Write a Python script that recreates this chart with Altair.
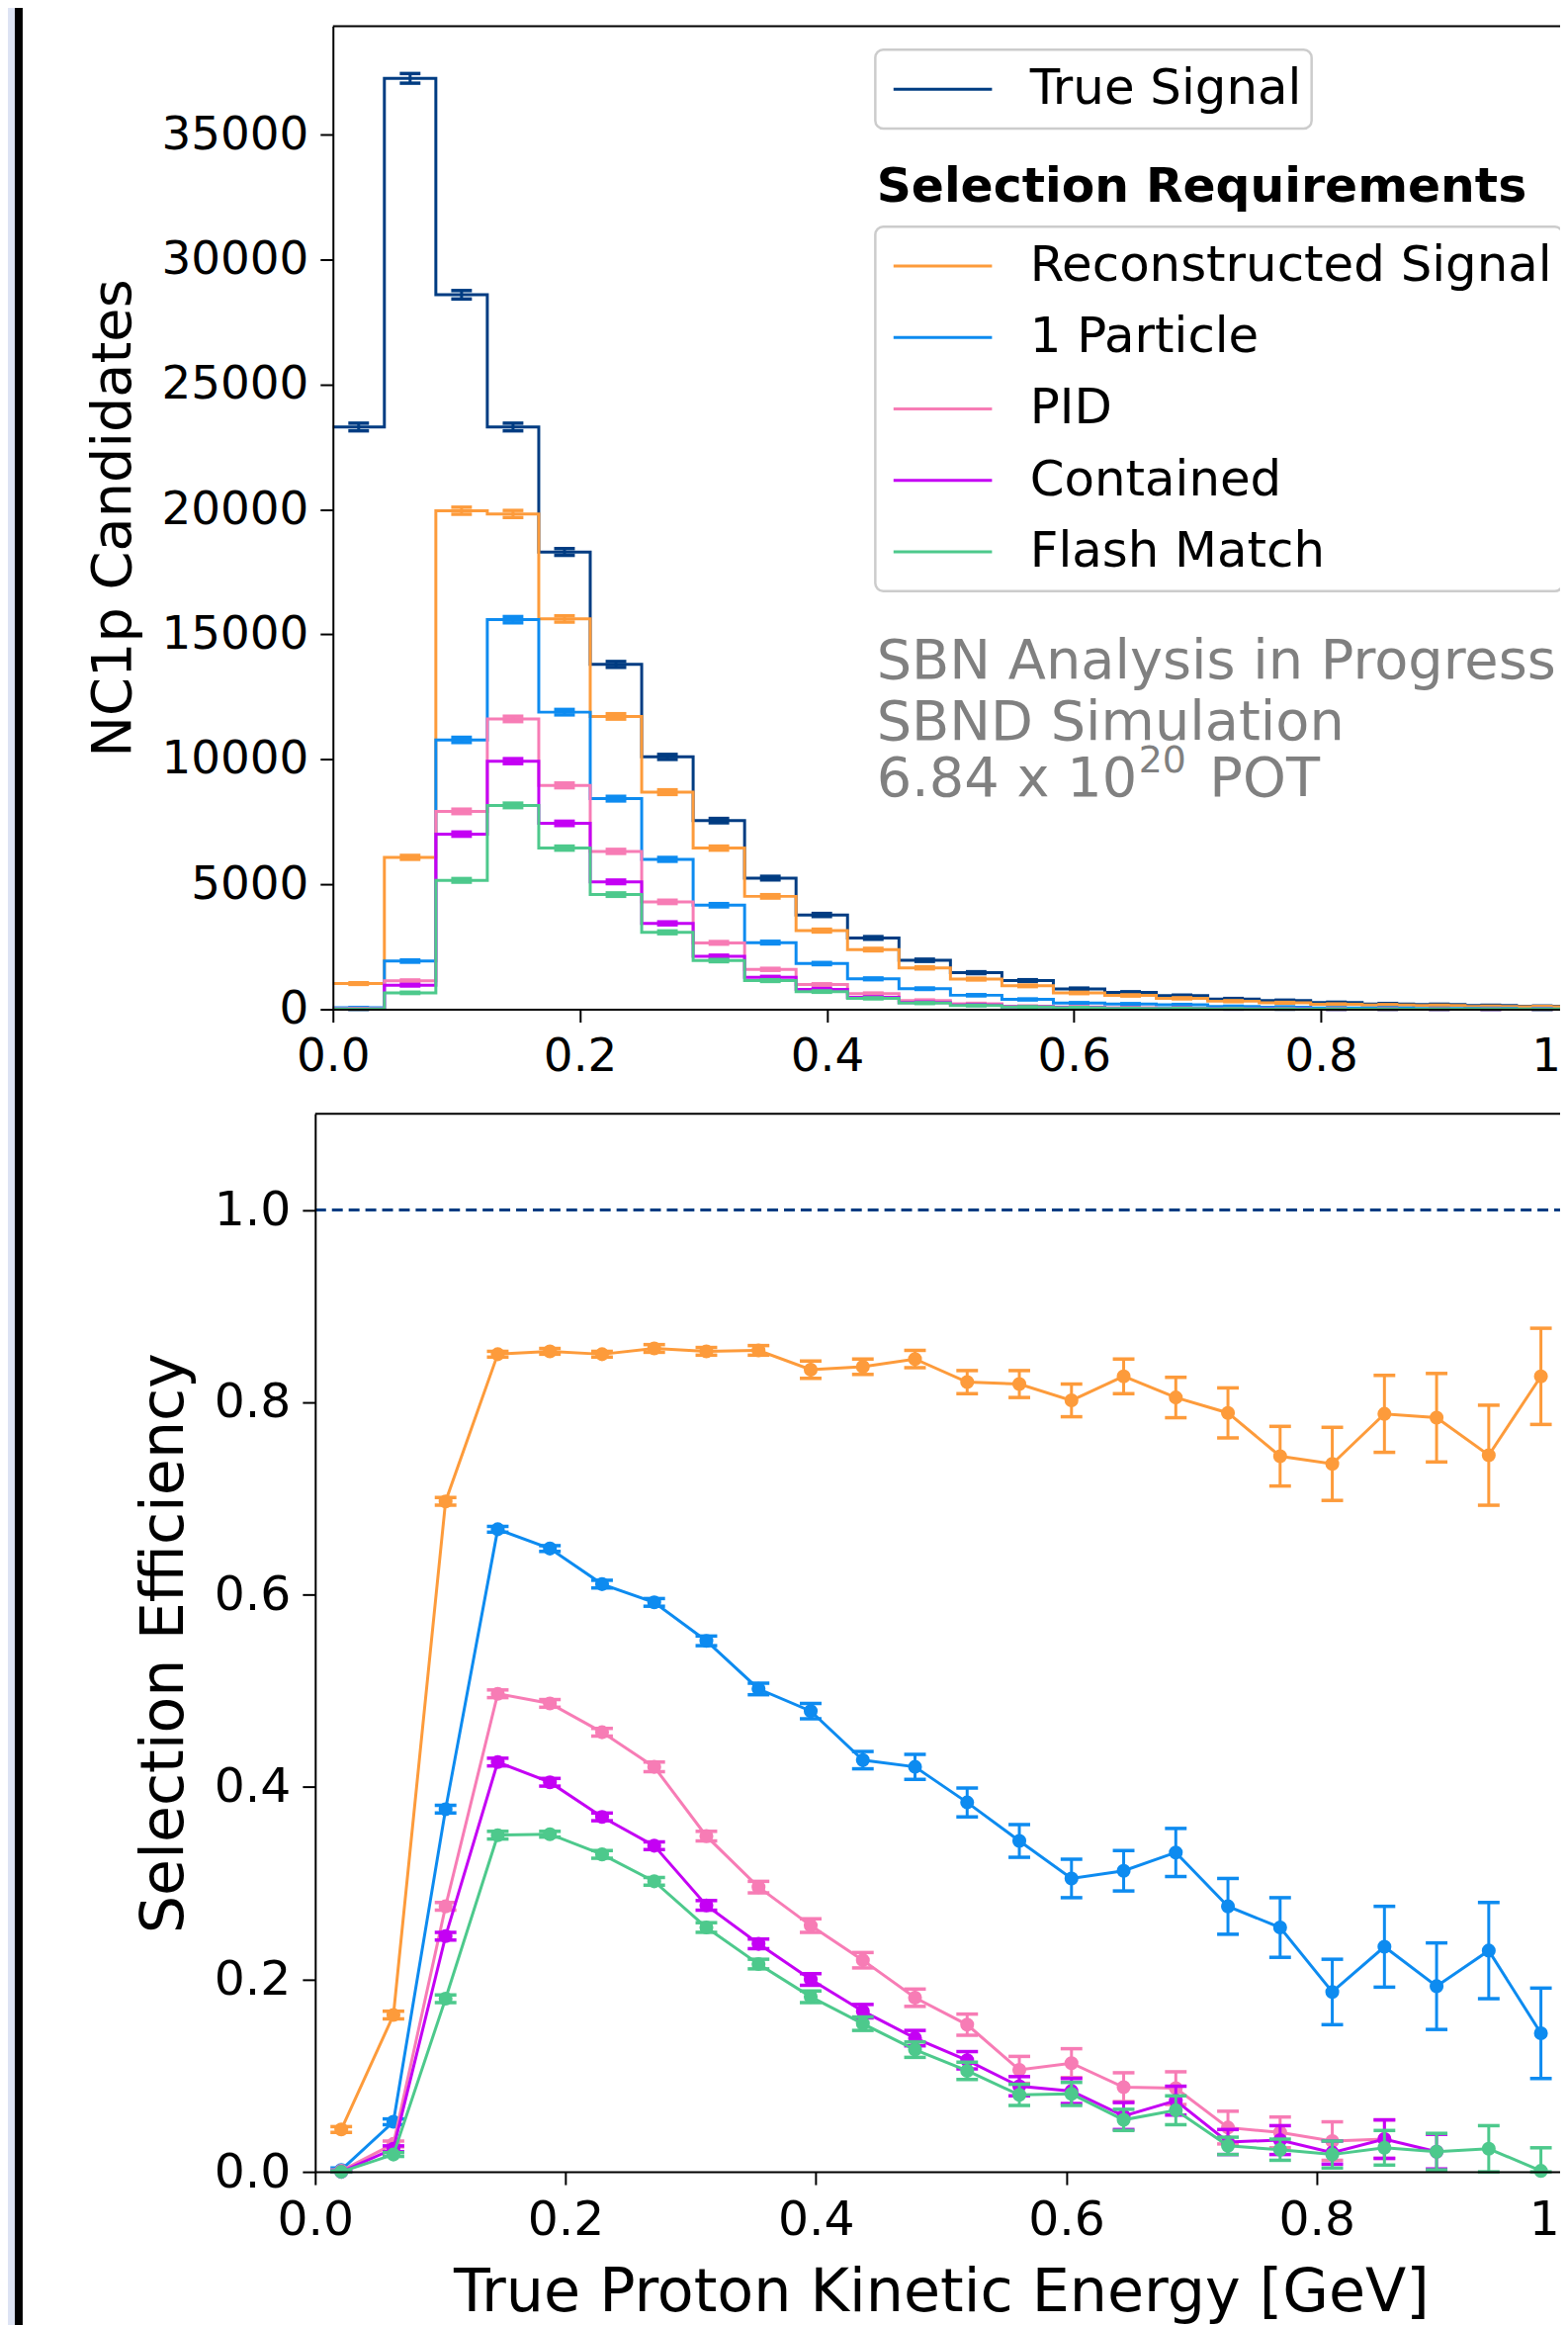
import altair as alt
import pandas as pd

FONT = "DejaVu Sans"

# ---------------- data ----------------
N_BINS = 24
BIN_EDGES = [i / N_BINS for i in range(N_BINS + 1)]
BIN_CENTERS = [(i + 0.5) / N_BINS for i in range(N_BINS)]

SERIES = ["True Signal", "Reconstructed Signal", "1 Particle", "PID", "Contained", "Flash Match"]
COLORS = ["#003c82", "#fd9b3b", "#0d8bf0", "#f77cb5", "#c400f4", "#4dc98c"]

true_counts = [23300, 37250, 28590, 23300, 18300, 13800, 10100, 7550, 5250, 3775, 2856, 1962,
               1466, 1150, 820, 677, 545, 413, 347, 268, 217, 190, 150, 120]
reco_counts = [1030, 6080, 19950, 19820, 15620, 11720, 8690, 6450, 4520, 3150, 2390, 1660,
               1210, 940, 655, 555, 440, 326, 260, 200, 172, 150, 112, 100]
onep_counts = [60, 1930, 10780, 15590, 11890, 8430, 6000, 4165, 2670, 1830, 1220, 825,
               563, 396, 250, 212, 181, 114, 88, 50, 51, 37, 35, 17]
pid_counts = [20, 1140, 7920, 11620, 8960, 6320, 4300, 2660, 1600, 990, 627, 355,
              224, 122, 93, 60, 47, 19, 14, 9, 7, 4, 3, 0]
cont_counts = [0, 965, 7010, 9930, 7440, 5100, 3440, 2120, 1280, 800, 477, 273,
               170, 102, 69, 39, 40, 13, 11, 5, 7, 4, 2, 0]
flash_counts = [0, 660, 5160, 8160, 6450, 4590, 3080, 1950, 1150, 710, 440, 249,
                154, 92, 66, 37, 35, 11, 8, 5, 5, 4, 4, 0]

true_err = [153, 193, 169, 153, 135, 117, 100, 87, 72, 61, 53, 44, 38, 34, 29, 26, 23, 20, 19, 16, 15, 14, 12, 11]
reco_err = [32, 78, 141, 141, 125, 108, 93, 80, 67, 56, 49, 41, 35, 31, 26, 24, 21, 18, 16, 14, 13, 12, 11, 10]
onep_err = [8, 44, 104, 125, 109, 92, 77, 65, 52, 43, 35, 29, 24, 20, 16, 15, 13, 11, 9, 7, 7, 6, 6, 4]
pid_err = [4, 34, 89, 108, 95, 80, 66, 52, 40, 31, 25, 19, 15, 11, 10, 8, 7, 4, 4, 3, 3, 2, 2, 0]
cont_err = [0, 31, 84, 100, 86, 71, 59, 46, 36, 28, 22, 17, 13, 10, 8, 6, 6, 4, 3, 2, 3, 2, 1, 0]
flash_err = [0, 26, 72, 90, 80, 68, 55, 44, 34, 27, 21, 16, 12, 10, 8, 6, 6, 3, 3, 2, 2, 2, 2, 0]

eff_reco = [0.044, 0.163, 0.697, 0.850, 0.853, 0.850, 0.856, 0.853, 0.854, 0.834, 0.837, 0.845,
            0.821, 0.819, 0.802, 0.827, 0.805, 0.789, 0.744, 0.736, 0.788, 0.784, 0.745, 0.827]
eff_onep = [0.002, 0.052, 0.377, 0.668, 0.648, 0.611, 0.592, 0.552, 0.502, 0.479, 0.428, 0.421,
            0.384, 0.344, 0.305, 0.313, 0.332, 0.276, 0.254, 0.187, 0.234, 0.193, 0.230, 0.144]
eff_pid = [0.001, 0.029, 0.276, 0.497, 0.487, 0.457, 0.421, 0.349, 0.296, 0.256, 0.220, 0.181,
           0.153, 0.106, 0.113, 0.088, 0.087, 0.046, 0.041, 0.032, 0.034, None, None, None]
eff_cont = [0.0, 0.024, 0.245, 0.426, 0.405, 0.369, 0.339, 0.277, 0.237, 0.200, 0.167, 0.139,
            0.116, 0.089, 0.084, 0.058, 0.074, 0.031, 0.033, 0.020, 0.034, 0.021, None, None]
eff_flash = [0.0, 0.018, 0.180, 0.350, 0.351, 0.330, 0.302, 0.254, 0.216, 0.182, 0.154, 0.127,
             0.105, 0.080, 0.081, 0.054, 0.064, 0.027, 0.023, 0.018, 0.025, 0.021, 0.024, 0.001]

err_reco = [0.003, 0.004, 0.004, 0.003, 0.003, 0.003, 0.004, 0.004, 0.005, 0.009, 0.008, 0.009,
            0.012, 0.014, 0.017, 0.018, 0.021, 0.026, 0.031, 0.038, 0.040, 0.046, 0.052, 0.050]
err_onep = [0.002, 0.003, 0.004, 0.003, 0.003, 0.004, 0.004, 0.005, 0.006, 0.008, 0.009, 0.013,
            0.015, 0.017, 0.020, 0.021, 0.025, 0.029, 0.031, 0.034, 0.042, 0.045, 0.050, 0.047]
err_pid = [0.001, 0.003, 0.004, 0.004, 0.004, 0.004, 0.005, 0.005, 0.006, 0.007, 0.008, 0.009,
           0.011, 0.014, 0.015, 0.015, 0.017, 0.017, 0.016, 0.020, 0.020, 0.0, 0.0, 0.0]
err_cont = [0.001, 0.003, 0.004, 0.004, 0.004, 0.004, 0.004, 0.005, 0.005, 0.006, 0.007, 0.008,
            0.009, 0.010, 0.013, 0.014, 0.015, 0.013, 0.015, 0.012, 0.020, 0.018, 0.0, 0.0]
err_flash = [0.001, 0.002, 0.004, 0.004, 0.003, 0.004, 0.004, 0.005, 0.005, 0.006, 0.007, 0.008,
             0.009, 0.011, 0.012, 0.011, 0.015, 0.009, 0.011, 0.014, 0.018, 0.019, 0.024, 0.024]

COUNTS = [true_counts, reco_counts, onep_counts, pid_counts, cont_counts, flash_counts]
COUNT_ERRS = [true_err, reco_err, onep_err, pid_err, cont_err, flash_err]
EFFS = [eff_reco, eff_onep, eff_pid, eff_cont, eff_flash]
EFF_ERRS = [err_reco, err_onep, err_pid, err_cont, err_flash]

HIST_YMAX = 39340
EFF_YMAX = 1.1
X_TICKS = [0.0, 0.2, 0.4, 0.6, 0.8, 1.0]
HIST_TICKS = [0, 5000, 10000, 15000, 20000, 25000, 30000, 35000]
EFF_TICKS = [0.0, 0.2, 0.4, 0.6, 0.8, 1.0]

# ---------------- layout (pixels) ----------------
W, H = 1264, 2178
XT = alt.Scale(domain=[0, 1], range=[18, 1272], nice=False, zero=False)
YT = alt.Scale(domain=[0, HIST_YMAX], range=[998, 0], nice=False, zero=False)
XB = alt.Scale(domain=[0, 1], range=[0, 1271], nice=False, zero=False)
YB = alt.Scale(domain=[0, EFF_YMAX], range=[2178, 1104], nice=False, zero=False)


def make_axis(orient, values, fmt, title, label_size, title_size=50, offset=0, title_pad=18):
    kw = dict(orient=orient, values=values, format=fmt, offset=offset, grid=False,
              labelFont=FONT, labelFontSize=label_size, labelColor="black",
              labelPadding=12, labelFlush=False, labelOverlap=False,
              tickSize=13, tickWidth=2, tickColor="black",
              domainColor="black", domainWidth=2, zindex=1)
    if title:
        kw.update(title=title, titleFont=FONT, titleFontSize=title_size,
                  titleFontWeight="normal", titleColor="black", titlePadding=title_pad)
    else:
        kw["title"] = None
    return alt.Axis(**kw)


AX_XT = make_axis("bottom", X_TICKS, ".1f", None, 47, offset=-(H - 998))
AX_YT = make_axis("left", HIST_TICKS, "d", "NC1p Candidates", 47, 56, offset=-18, title_pad=20)
AX_XB = make_axis("bottom", X_TICKS, ".1f", "True Proton Kinetic Energy [GeV]", 49, 60.5, title_pad=19)
AX_YB = make_axis("left", EFF_TICKS, ".1f", "Selection Efficiency", 49, 60.5, title_pad=19)

LEGEND_STYLE = dict(orient="none", title=None, symbolType="stroke", symbolSize=10000,
                    symbolStrokeWidth=3, labelFontSize=50, labelFont=FONT, labelColor="black",
                    labelLimit=1000, padding=10, strokeColor="#cccccc", fillColor="white",
                    cornerRadius=8, symbolOffset=7, labelOffset=37, rowPadding=12.5,
                    clipHeight=60)
LEG_TRUE = alt.Legend(legendX=568.7, legendY=24, **LEGEND_STYLE)
LEG_SEL = alt.Legend(legendX=568.7, legendY=203.6, **LEGEND_STYLE)
COLOR_SCALE = alt.Scale(domain=SERIES[1:], range=COLORS[1:])


def xy(xs, ys, ax_x, ax_y):
    return dict(x=alt.X("x:Q", scale=xs, axis=ax_x), y=alt.Y("y:Q", scale=ys, axis=ax_y))


def errbar_layers(xvals, yvals, errs, color, xs, ys, ax_x, ax_y, cap):
    lo, hi, xx = [], [], []
    for x, v, e in zip(xvals, yvals, errs):
        if v is None:
            continue
        xx.append(x)
        lo.append(max(0.0, v - e))
        hi.append(v + e)
    rule_df = pd.DataFrame({"x": xx, "y": lo, "y2": hi})
    cap_df = pd.DataFrame({"x": xx + xx, "y": lo + hi})
    rules = alt.Chart(rule_df).mark_rule(strokeWidth=3, color=color).encode(
        **xy(xs, ys, ax_x, ax_y), y2=alt.Y2("y2:Q"))
    caps = alt.Chart(cap_df).mark_tick(orient="horizontal", size=cap, thickness=3.5,
                                       color=color, opacity=1).encode(**xy(xs, ys, ax_x, ax_y))
    return [rules, caps]


# ---------------- top panel: histograms ----------------
top_layers = []
for k, name in enumerate(SERIES):
    c = COLORS[k]
    counts = COUNTS[k]
    step_df = pd.DataFrame({"x": BIN_EDGES, "y": counts + [counts[-1]], "series": name})
    if k == 0:
        col = {"stroke": alt.Stroke("series:N", scale=alt.Scale(domain=[name], range=[c]),
                                    legend=LEG_TRUE)}
    else:
        col = {"color": alt.Color("series:N", scale=COLOR_SCALE, legend=LEG_SEL)}
    top_layers.append(alt.Chart(step_df).mark_line(interpolate="step-after", strokeWidth=3)
                      .encode(**xy(XT, YT, AX_XT, AX_YT), **col))
    top_layers += errbar_layers(BIN_CENTERS, counts, COUNT_ERRS[k], c, XT, YT, AX_XT, AX_YT, 21)

top_frame = alt.Chart(pd.DataFrame({"x": [0.0], "x2": [1.0], "y": [HIST_YMAX]})).mark_rule(
    color="black", strokeWidth=2).encode(**xy(XT, YT, AX_XT, AX_YT), x2=alt.X2("x2:Q"))
top_right = alt.Chart(pd.DataFrame({"x": [1.0], "y": [0.0], "y2": [HIST_YMAX]})).mark_rule(
    color="black", strokeWidth=2).encode(**xy(XT, YT, AX_XT, AX_YT), y2=alt.Y2("y2:Q"))
top_layers += [top_frame, top_right]
top = alt.layer(*top_layers)

# ---------------- bottom panel: efficiencies ----------------
bot_layers = []
ref_line = alt.Chart(pd.DataFrame({"x": [0.0], "x2": [1.0], "y": [1.0]})).mark_rule(
    color=COLORS[0], strokeWidth=3, strokeDash=[11, 6]).encode(**xy(XB, YB, AX_XB, AX_YB),
                                                               x2=alt.X2("x2:Q"))
bot_layers.append(ref_line)
for k, name in enumerate(SERIES[1:]):
    c = COLORS[k + 1]
    rows = [(x, v) for x, v in zip(BIN_CENTERS, EFFS[k]) if v is not None]
    pdf = pd.DataFrame({"x": [r[0] for r in rows], "y": [r[1] for r in rows], "series": name})
    bot_layers.append(alt.Chart(pdf).mark_line(strokeWidth=3).encode(
        **xy(XB, YB, AX_XB, AX_YB), color=alt.Color("series:N", scale=COLOR_SCALE, legend=LEG_SEL)))
    bot_layers += errbar_layers(BIN_CENTERS, EFFS[k], EFF_ERRS[k], c, XB, YB, AX_XB, AX_YB, 22)
    bot_layers.append(alt.Chart(pdf).mark_circle(size=200, opacity=1, color=c).encode(
        **xy(XB, YB, AX_XB, AX_YB)))

bot_frame = alt.Chart(pd.DataFrame({"x": [0.0], "x2": [1.0], "y": [EFF_YMAX]})).mark_rule(
    color="black", strokeWidth=2).encode(**xy(XB, YB, AX_XB, AX_YB), x2=alt.X2("x2:Q"))
bot_right = alt.Chart(pd.DataFrame({"x": [1.0], "y": [0.0], "y2": [EFF_YMAX]})).mark_rule(
    color="black", strokeWidth=2).encode(**xy(XB, YB, AX_XB, AX_YB), y2=alt.Y2("y2:Q"))
bot_layers += [bot_frame, bot_right]
bottom = alt.layer(*bot_layers)

# ---------------- annotations ----------------
DUMMY = pd.DataFrame({"a": [0]})


def text(s, x, y, size, color="black", weight="normal"):
    return alt.Chart(DUMMY).mark_text(text=s, font=FONT, fontSize=size, color=color,
                                      fontWeight=weight, align="left",
                                      baseline="alphabetic").encode(
        x=alt.value(x), y=alt.value(y))


GRAY = "#808080"
annots = [
    text("Selection Requirements", 570, 178, 49, weight="bold"),
    text("SBN Analysis in Progress", 570, 662.6, 56, GRAY),
    text("SBND Simulation", 570, 724, 56, GRAY),
    text("6.84 x 10", 570, 782, 56, GRAY),
    text("20", 836, 757, 38, GRAY),
    text("POT", 908, 782, 56, GRAY),
]

strip = [
    alt.Chart(DUMMY).mark_rect(color="#dde3f3").encode(
        x=alt.value(-320), x2=alt.value(-305), y=alt.value(-30), y2=alt.value(2400)),
    alt.Chart(DUMMY).mark_rect(color="black").encode(
        x=alt.value(-305), x2=alt.value(-297), y=alt.value(-30), y2=alt.value(2400)),
]

chart = alt.layer(*strip, top, bottom, *annots).resolve_scale(
    x="independent", y="independent").properties(
    width=W, height=H,
    autosize=alt.AutoSizeParams(type="none"),
    padding={"left": 312, "top": 14, "right": 0, "bottom": 152},
).configure_view(strokeWidth=0).configure_legend(strokeWidth=2.5)

chart.save("out.html", embed_options={"renderer": "svg", "actions": False})
